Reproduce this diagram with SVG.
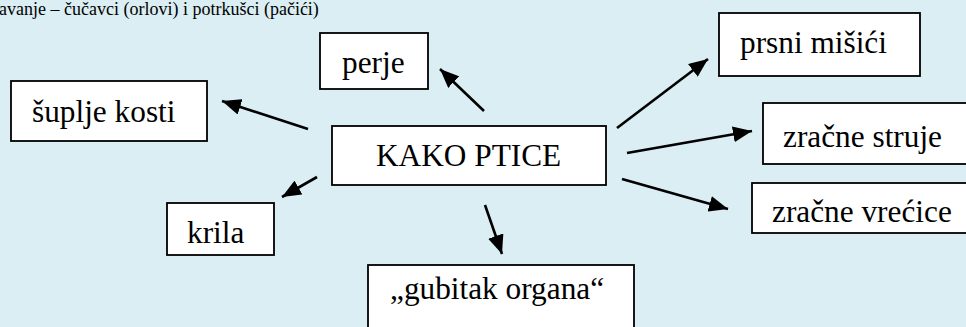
<svg xmlns="http://www.w3.org/2000/svg" width="966" height="327" viewBox="0 0 966 327">
<defs>
<style>
.bg{fill:#DAEEF3}
.box{fill:#fff;stroke:#000;stroke-width:1.8}
.t{font-family:'Liberation Serif',serif;font-size:31.3px;fill:#000}
.cap{font-family:'Liberation Serif',serif;font-size:18px;fill:#000}
.c{stroke:#000;stroke-width:2.6;fill:none;marker-end:url(#ah)}
</style>
<marker id="ah" markerUnits="userSpaceOnUse" markerWidth="22" markerHeight="16" refX="19" refY="8" orient="auto">
<path d="M0,0 L19,8 L0,16 Z" fill="#000"/>
</marker>
</defs>
<rect class="bg" x="0" y="0" width="966" height="327"/>
<text class="cap" x="-1" y="15">avanje – čučavci (orlovi) i potrkušci (pačići)</text>
<g id="connectors">
<line class="c" x1="308" y1="129" x2="222" y2="101"/>
<line class="c" x1="484" y1="111" x2="440" y2="69"/>
<line class="c" x1="317" y1="177" x2="282" y2="197"/>
<line class="c" x1="485" y1="205" x2="502" y2="254"/>
<line class="c" x1="617" y1="128" x2="708" y2="59"/>
<line class="c" x1="627" y1="153" x2="752" y2="131"/>
<line class="c" x1="622" y1="179" x2="728" y2="209"/>
</g>
<g id="center">
<rect class="box" x="332" y="126" width="274" height="59"/>
<text class="t" x="376" y="166">KAKO PTICE</text>
</g>
<g id="perje">
<rect class="box" x="320" y="33" width="108" height="56"/>
<text class="t" x="342" y="73">perje</text>
</g>
<g id="suplje-kosti">
<rect class="box" x="11" y="81" width="196" height="60"/>
<text class="t" x="32" y="122">šuplje kosti</text>
</g>
<g id="krila">
<rect class="box" x="167" y="203" width="107" height="52"/>
<text class="t" x="187" y="243">krila</text>
</g>
<g id="gubitak-organa">
<rect class="box" x="368" y="265" width="266" height="80"/>
<text class="t" x="390" y="299">„gubitak organa“</text>
</g>
<g id="prsni-misici">
<rect class="box" x="719" y="13" width="201" height="63"/>
<text class="t" x="740" y="53">prsni mišići</text>
</g>
<g id="zracne-struje">
<rect class="box" x="763" y="103" width="220" height="61"/>
<text class="t" x="783" y="147">zračne struje</text>
</g>
<g id="zracne-vrecice">
<rect class="box" x="752" y="183" width="230" height="50"/>
<text class="t" x="772" y="222">zračne vrećice</text>
</g>
</svg>
